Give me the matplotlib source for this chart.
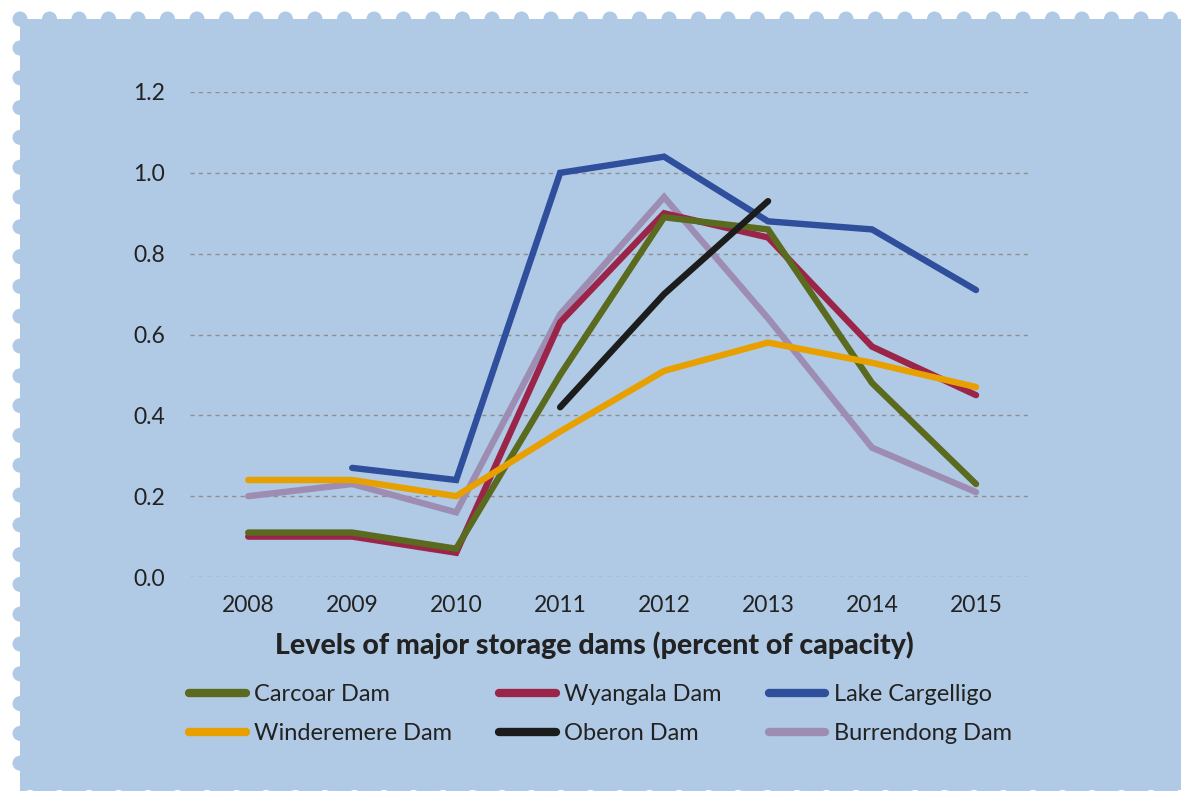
import matplotlib.pyplot as plt
from matplotlib.lines import Line2D
from matplotlib.patches import Rectangle, Circle
import numpy as np

plt.rcParams['font.family'] = ['Lato', 'DejaVu Sans']

years = [2008, 2009, 2010, 2011, 2012, 2013, 2014, 2015]
nan = np.nan

carcoar = [0.11, 0.11, 0.07, 0.50, 0.89, 0.86, 0.48, 0.23]
wyangala = [0.10, 0.10, 0.06, 0.63, 0.90, 0.84, 0.57, 0.45]
cargelligo = [nan, 0.27, 0.24, 1.00, 1.04, 0.88, 0.86, 0.71]
winderemere = [0.24, 0.24, 0.20, 0.36, 0.51, 0.58, 0.53, 0.47]
oberon = [nan, nan, nan, 0.42, 0.70, 0.93, nan, nan]
burrendong = [0.20, 0.23, 0.16, 0.65, 0.94, 0.64, 0.32, 0.21]

names = ['Carcoar Dam', 'Wyangala Dam', 'Lake Cargelligo',
         'Winderemere Dam', 'Oberon Dam', 'Burrendong Dam']
series = [carcoar, wyangala, cargelligo, winderemere, oberon, burrendong]
colors = ['#5a6a1e', '#9b2449', '#2f4f9c', '#e89f00', '#1c1c1c', '#9e8db3']
zorders = [5, 4, 3, 6, 7, 2]

yticks = [0.0, 0.2, 0.4, 0.6, 0.8, 1.0, 1.2]
title = 'Levels of major storage dams (percent of capacity)'

W, H = 1181, 791
bg = '#b0cae5'

fig = plt.figure(figsize=(W / 100, H / 100), dpi=100, facecolor='white')

# stamp-like background
back = fig.add_axes([0, 0, 1, 1])
back.set_xlim(0, W)
back.set_ylim(H, 0)
back.axis('off')
back.add_patch(Rectangle((20, 19), W - 20, H - 19, color=bg, lw=0))
for x in np.arange(20, W + 15, 29.5):
    back.add_patch(Circle((x, 19), 7.5, color=bg, lw=0))
for y in np.arange(48, H - 5, 29.8):
    back.add_patch(Circle((20, y), 7.5, color=bg, lw=0))
for x in np.arange(30, W + 15, 29.5):
    back.add_patch(Circle((x, 798), 8, color='white', lw=0))

# main chart
x0, x1 = 190, 1028
y0, y1 = 577, 92
ax = fig.add_axes([x0 / W, 1 - y0 / H, (x1 - x0) / W, (y0 - y1) / H])
ax.set_facecolor('none')
ax.set_xlim(2007.44, 2015.5)
ax.set_ylim(0, 1.2)

for y in yticks:
    ax.axhline(y, color='#8e8e8e', lw=1, ls=(0, (3, 3)), zorder=1)

handles = []
for name, vals, c, z in zip(names, series, colors, zorders):
    ax.plot(years, vals, color=c, lw=4.6, zorder=z, solid_capstyle='round',
            solid_joinstyle='miter', clip_on=False)
    handles.append(Line2D([], [], color=c, lw=6, solid_capstyle='round'))

for s in ax.spines.values():
    s.set_visible(False)
ax.set_xticks(years)
ax.set_xticklabels([str(y) for y in years])
ax.set_yticks(yticks)
ax.set_yticklabels(['%.1f' % y for y in yticks])
ax.tick_params(length=0, labelsize=16.5, colors='#222222')
ax.tick_params(axis='y', pad=18)
ax.tick_params(axis='x', pad=13)

fig.text(594 / W, 1 - 645 / H, title, ha='center', va='center',
         fontsize=20.5, fontweight='black', color='#222222')

# legend is filled column-wise, so reorder for row-wise reading
order = [0, 3, 1, 4, 2, 5]
fig.legend([handles[i] for i in order], [names[i] for i in order],
           loc='center left', bbox_to_anchor=(189 / W, 1 - 714 / H),
           ncol=3, frameon=False, fontsize=17, borderpad=0, borderaxespad=0,
           handlelength=2.4, handletextpad=0.35, columnspacing=2.0,
           labelspacing=0.75, labelcolor='#222222')

fig.savefig('out.png', dpi=100, facecolor='white')
